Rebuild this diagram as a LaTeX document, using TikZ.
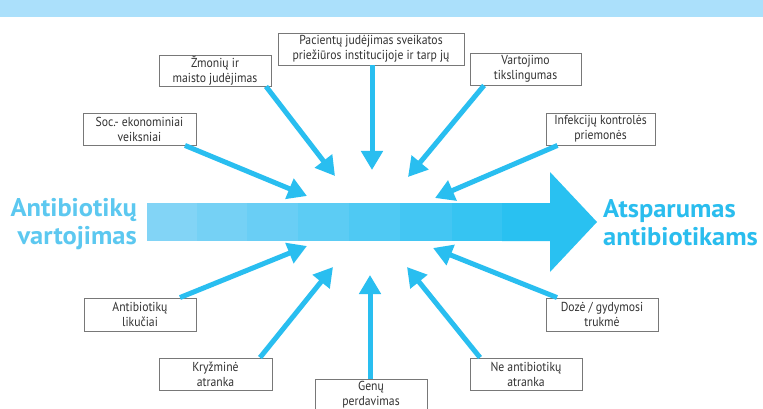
\documentclass[tikz,border=0pt]{standalone}
\usepackage{fontspec}
\setmainfont{PT Sans}[FakeStretch=0.9]
\newfontfamily\bigfont{PT Sans}[FakeStretch=1.04]
\usetikzlibrary{arrows.meta}
\definecolor{band}{RGB}{171,224,251}
\definecolor{arr}{RGB}{41,190,240}
\definecolor{lefttxt}{RGB}{92,200,240}
\definecolor{righttxt}{RGB}{42,189,238}
\definecolor{boxline}{RGB}{120,120,120}
\definecolor{boxtxt}{RGB}{50,50,50}
\definecolor{sa}{RGB}{130,212,246}
\definecolor{sb}{RGB}{117,209,245}
\definecolor{sc}{RGB}{105,206,245}
\definecolor{sd}{RGB}{92,204,244}
\definecolor{se}{RGB}{79,201,243}
\definecolor{sf}{RGB}{67,198,243}
\definecolor{sg}{RGB}{54,196,242}
\definecolor{sh}{RGB}{41,193,241}
\tikzset{
  factor/.style={draw=boxline, line width=0.9pt, fill=white, text=boxtxt,
    align=center, inner sep=0pt, font=\fontsize{13}{15}\selectfont},
  conn/.style={draw=arr, line width=5pt, -{Triangle[length=19pt,width=21pt]}},
  bigtxt/.style={inner sep=0pt, font=\bigfont\bfseries\fontsize{25.5}{28}\selectfont}
}
\begin{document}
\begin{tikzpicture}[x=1pt,y=-1pt]
\clip (0,0) rectangle (763,409);
\fill[white] (0,0) rectangle (763,409);
\fill[band] (0,0) rectangle (763,17);
% big arrow
\fill[sa] (147,203) rectangle (197.5,241);
\fill[sb] (197,203) rectangle (247.5,241);
\fill[sc] (247,203) rectangle (298.5,241);
\fill[sd] (298,203) rectangle (349.5,241);
\fill[se] (349,203) rectangle (400.5,241);
\fill[sf] (400,203) rectangle (452.5,241);
\fill[sg] (452,203) rectangle (502.5,241);
\fill[sh] (502,203) -- (550,203) -- (550,172) -- (597,222) -- (550,272) -- (550,241) -- (502,241) -- cycle;
\node[bigtxt, text=lefttxt, align=right, anchor=east] (src) at (137,224) {Antibiotikų\\vartojimas};
\node[bigtxt, text=righttxt, align=left, anchor=west] (dst) at (603,223) {Atsparumas\\antibiotikams};
% factor boxes
\node[factor, minimum width=186pt, minimum height=32pt] (pac) at (371,49) {Pacientų judėjimas sveikatos\\priežiūros institucijoje ir tarp jų};
\node[factor, minimum width=112pt, minimum height=31pt] (zmo) at (215,70.5) {Žmonių ir\\maisto judėjimas};
\node[factor, minimum width=111pt, minimum height=32pt] (var) at (525.5,69) {Vartojimo\\tikslingumas};
\node[factor, minimum width=109pt, minimum height=32pt] (inf) at (600.5,129) {Infekcijų kontrolės\\priemonės};
\node[factor, minimum width=113pt, minimum height=32pt] (soc) at (139.5,129) {Soc.- ekonominiai\\veiksniai};
\node[factor, minimum width=112pt, minimum height=33pt] (lik) at (140,314.5) {Antibiotikų\\likučiai};
\node[factor, minimum width=113pt, minimum height=32pt] (kry) at (215.5,374) {Kryžminė\\atranka};
\node[factor, minimum width=112pt, minimum height=32pt] (gen) at (371,395) {Genų\\perdavimas};
\node[factor, minimum width=112pt, minimum height=32pt] (ne) at (526,374) {Ne antibiotikų\\atranka};
\node[factor, minimum width=112pt, minimum height=33pt] (doz) at (602,314.5) {Dozė / gydymosi\\trukmė};
% tips
\coordinate (tpac) at (372,170);
\coordinate (tzmo) at (335,176);
\coordinate (tvar) at (408,177);
\coordinate (tinf) at (435,198);
\coordinate (tsoc) at (307,196);
\coordinate (tlik) at (307,246);
\coordinate (tkry) at (333,267);
\coordinate (tgen) at (370,275);
\coordinate (tne) at (407,267);
\coordinate (tdoz) at (433,248);
% connectors
\draw[conn] ([xshift=1pt]pac.south) -- (tpac);
\draw[conn] ([xshift=51pt]zmo.south) -- (tzmo);
\draw[conn] ([xshift=-41.5pt]var.south) -- (tvar);
\draw[conn] ([xshift=-43pt]inf.south) -- (tinf);
\draw[conn] ([xshift=45.5pt]soc.south) -- (tsoc);
\draw[conn] ([xshift=40pt]lik.north) -- (tlik);
\draw[conn] ([xshift=44.5pt]kry.north) -- (tkry);
\draw[conn] ([xshift=-1pt]gen.north) -- (tgen);
\draw[conn] ([xshift=-46pt]ne.north) -- (tne);
\draw[conn] ([xshift=-45pt]doz.north) -- (tdoz);
\end{tikzpicture}
\end{document}
